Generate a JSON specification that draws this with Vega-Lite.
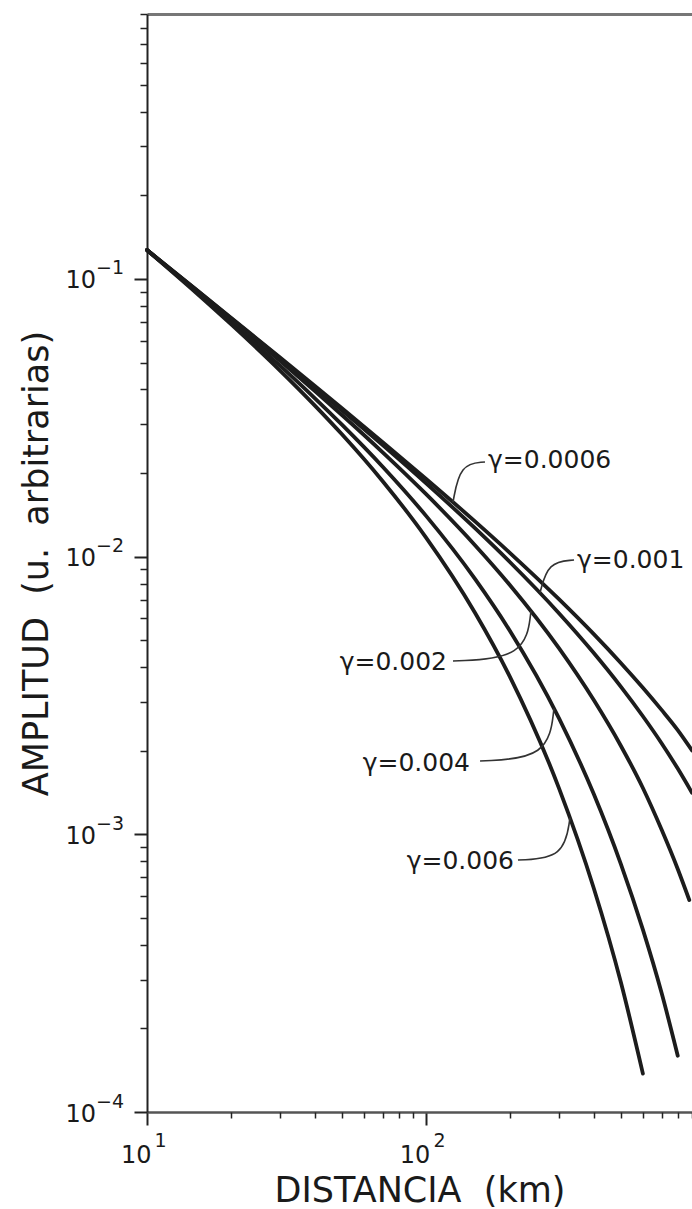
{
  "$schema": "https://vega.github.io/schema/vega-lite/v6.json",
  "width": 545,
  "height": 1098,
  "autosize": {"type": "none"},
  "padding": {"left": 147, "top": 14, "right": 0, "bottom": 97},
  "background": "white",
  "config": {
    "view": {"stroke": null},
    "font": "DejaVu Sans",
    "axis": {"grid": false, "labelFont": "DejaVu Sans", "titleFont": "DejaVu Sans", "labelColor": "#1a1a1a", "titleColor": "#1a1a1a", "titleFontWeight": "normal", "labelFlush": false, "labelOverlap": false, "labelBound": false, "tickColor": "#222", "domainColor": "#222"}
  },
  "datasets": {
    "curves": [
      {"g": "0.0006", "r": 10, "a": 0.1271}, {"g": "0.0006", "r": 15, "a": 0.09158}, {"g": "0.0006", "r": 20, "a": 0.07255}, {"g": "0.0006", "r": 30, "a": 0.05214}, {"g": "0.0006", "r": 40, "a": 0.04117}, {"g": "0.0006", "r": 50, "a": 0.03423}, {"g": "0.0006", "r": 70, "a": 0.02584}, {"g": "0.0006", "r": 100, "a": 0.01908}, {"g": "0.0006", "r": 150, "a": 0.01339}, {"g": "0.0006", "r": 200, "a": 0.01032}, {"g": "0.0006", "r": 300, "a": 0.007025}, {"g": "0.0006", "r": 400, "a": 0.005257}, {"g": "0.0006", "r": 500, "a": 0.004141}, {"g": "0.0006", "r": 600, "a": 0.003371}, {"g": "0.0006", "r": 700, "a": 0.002806}, {"g": "0.0006", "r": 800, "a": 0.002374}, {"g": "0.0006", "r": 900, "a": 0.002005},
      {"g": "0.001", "r": 10, "a": 0.1271}, {"g": "0.001", "r": 15, "a": 0.09139}, {"g": "0.001", "r": 20, "a": 0.07226}, {"g": "0.001", "r": 30, "a": 0.05172}, {"g": "0.001", "r": 40, "a": 0.04068}, {"g": "0.001", "r": 50, "a": 0.03368}, {"g": "0.001", "r": 70, "a": 0.02522}, {"g": "0.001", "r": 100, "a": 0.0184}, {"g": "0.001", "r": 150, "a": 0.01266}, {"g": "0.001", "r": 200, "a": 0.009566}, {"g": "0.001", "r": 300, "a": 0.006257}, {"g": "0.001", "r": 400, "a": 0.004497}, {"g": "0.001", "r": 500, "a": 0.003404}, {"g": "0.001", "r": 600, "a": 0.002662}, {"g": "0.001", "r": 700, "a": 0.002129}, {"g": "0.001", "r": 800, "a": 0.001725}, {"g": "0.001", "r": 900, "a": 0.001412},
      {"g": "0.002", "r": 10, "a": 0.1271}, {"g": "0.002", "r": 15, "a": 0.09095}, {"g": "0.002", "r": 20, "a": 0.07153}, {"g": "0.002", "r": 30, "a": 0.05069}, {"g": "0.002", "r": 40, "a": 0.03946}, {"g": "0.002", "r": 50, "a": 0.03236}, {"g": "0.002", "r": 70, "a": 0.02375}, {"g": "0.002", "r": 100, "a": 0.01682}, {"g": "0.002", "r": 150, "a": 0.011}, {"g": "0.002", "r": 200, "a": 0.007909}, {"g": "0.002", "r": 300, "a": 0.004682}, {"g": "0.002", "r": 400, "a": 0.003044}, {"g": "0.002", "r": 500, "a": 0.002085}, {"g": "0.002", "r": 600, "a": 0.001468}, {"g": "0.002", "r": 700, "a": 0.00104}, {"g": "0.002", "r": 800, "a": 0.00075}, {"g": "0.002", "r": 880, "a": 0.00058},
      {"g": "0.004", "r": 10, "a": 0.1271}, {"g": "0.004", "r": 15, "a": 0.09004}, {"g": "0.004", "r": 20, "a": 0.07011}, {"g": "0.004", "r": 30, "a": 0.04871}, {"g": "0.004", "r": 40, "a": 0.03717}, {"g": "0.004", "r": 50, "a": 0.02987}, {"g": "0.004", "r": 70, "a": 0.02107}, {"g": "0.004", "r": 100, "a": 0.01405}, {"g": "0.004", "r": 150, "a": 0.008316}, {"g": "0.004", "r": 200, "a": 0.005409}, {"g": "0.004", "r": 300, "a": 0.002621}, {"g": "0.004", "r": 400, "a": 0.001396}, {"g": "0.004", "r": 500, "a": 0.0007826}, {"g": "0.004", "r": 600, "a": 0.0004535}, {"g": "0.004", "r": 700, "a": 0.0002687}, {"g": "0.004", "r": 800, "a": 0.0001595},
      {"g": "0.006", "r": 10, "a": 0.1271}, {"g": "0.006", "r": 15, "a": 0.08915}, {"g": "0.006", "r": 20, "a": 0.06872}, {"g": "0.006", "r": 30, "a": 0.0468}, {"g": "0.006", "r": 40, "a": 0.035}, {"g": "0.006", "r": 50, "a": 0.02758}, {"g": "0.006", "r": 70, "a": 0.01869}, {"g": "0.006", "r": 100, "a": 0.01174}, {"g": "0.006", "r": 150, "a": 0.006284}, {"g": "0.006", "r": 200, "a": 0.0037}, {"g": "0.006", "r": 300, "a": 0.001467}, {"g": "0.006", "r": 400, "a": 0.0006397}, {"g": "0.006", "r": 500, "a": 0.0002938}, {"g": "0.006", "r": 600, "a": 0.0001375}
    ],
    "leaders": [
      {"g": "0.0006", "o": 0, "r": 125.1, "a": 0.01572}, {"g": "0.0006", "o": 1, "r": 132.6, "a": 0.02157}, {"g": "0.0006", "o": 2, "r": 162.9, "a": 0.02193},
      {"g": "0.001", "o": 0, "r": 256.6, "a": 0.007406}, {"g": "0.001", "o": 1, "r": 274.1, "a": 0.009566}, {"g": "0.001", "o": 2, "r": 339.8, "a": 0.009725},
      {"g": "0.002", "o": 0, "r": 125.1, "a": 0.004209}, {"g": "0.002", "o": 1, "r": 226.7, "a": 0.004315}, {"g": "0.002", "o": 2, "r": 238.2, "a": 0.006372},
      {"g": "0.004", "o": 0, "r": 156.4, "a": 0.001837}, {"g": "0.004", "o": 1, "r": 274.1, "a": 0.001883}, {"g": "0.004", "o": 2, "r": 288.0, "a": 0.002842},
      {"g": "0.006", "o": 0, "r": 213.9, "a": 0.000808}, {"g": "0.006", "o": 1, "r": 312.9, "a": 0.000822}, {"g": "0.006", "o": 2, "r": 328.7, "a": 0.001148}
    ],
    "labels": [
      {"t": "γ=0.0006", "r": 167, "a": 0.02229, "side": "left"},
      {"t": "γ=0.001", "r": 348.3, "a": 0.009725, "side": "left"},
      {"t": "γ=0.002", "r": 119, "a": 0.004174, "side": "right"},
      {"t": "γ=0.004", "r": 143.9, "a": 0.001806, "side": "right"},
      {"t": "γ=0.006", "r": 207, "a": 0.0008017, "side": "right"}
    ]
  },
  "layer": [
    {
      "data": {"name": "curves"},
      "mark": {"type": "line", "interpolate": "monotone", "color": "#1c1c1c", "strokeWidth": 3.8, "strokeCap": "round"},
      "encoding": {
        "x": {"field": "r", "type": "quantitative", "scale": {"type": "log", "domain": [10, 900], "nice": false, "zero": false},
          "axis": {"orient": "bottom", "values": [10, 100], "tickSize": 13, "tickWidth": 2, "domainWidth": 2.5, "domainColor": "#555", "labelExpr": "'' + round(log(datum.value)/LN10)", "labelAlign": "left", "labelBaseline": "alphabetic", "labelOffset": 7, "labelPadding": 21, "labelFontSize": 19, "title": null}},
        "y": {"field": "a", "type": "quantitative", "scale": {"type": "log", "domain": [0.0001, 0.9], "nice": false, "zero": false},
          "axis": {"orient": "left", "values": [0.0001, 0.001, 0.01, 0.1], "tickSize": 13, "tickWidth": 2, "domainWidth": 2, "labelExpr": "'−' + abs(round(log(datum.value)/LN10))", "labelAlign": "left", "labelBaseline": "alphabetic", "labelOffset": -5, "labelPadding": 38.5, "labelFontSize": 19, "title": null}},
        "detail": {"field": "g"}
      }
    },
    {
      "data": {"name": "leaders"},
      "mark": {"type": "line", "interpolate": "basis", "color": "#333", "strokeWidth": 1.6},
      "encoding": {
        "x": {"field": "r", "type": "quantitative", "scale": {"type": "log", "domain": [10, 900], "nice": false, "zero": false},
          "axis": {"orient": "bottom", "values": [20, 30, 40, 50, 60, 70, 80, 90, 200, 300, 400, 500, 600, 700, 800, 900], "tickSize": 6, "tickWidth": 1.5, "labels": false, "domain": false, "title": null}},
        "y": {"field": "a", "type": "quantitative", "scale": {"type": "log", "domain": [0.0001, 0.9], "nice": false, "zero": false},
          "axis": {"orient": "left", "values": [0.0002, 0.0003, 0.0004, 0.0005, 0.0006, 0.0007, 0.0008, 0.0009, 0.002, 0.003, 0.004, 0.005, 0.006, 0.007, 0.008, 0.009, 0.02, 0.03, 0.04, 0.05, 0.06, 0.07, 0.08, 0.09, 0.2, 0.3, 0.4, 0.5, 0.6, 0.7, 0.8, 0.9], "tickSize": 7, "tickWidth": 1.5, "labels": false, "domain": false, "title": null}},
        "detail": {"field": "g"},
        "order": {"field": "o"}
      }
    },
    {
      "data": {"name": "labels"},
      "transform": [{"filter": "datum.side == 'left'"}],
      "mark": {"type": "text", "align": "left", "baseline": "middle", "fontSize": 25, "font": "DejaVu Sans", "color": "#1a1a1a"},
      "encoding": {
        "x": {"field": "r", "type": "quantitative", "scale": {"type": "log", "domain": [10, 900], "nice": false, "zero": false},
          "axis": {"orient": "bottom", "values": [10, 100], "ticks": false, "tickSize": 0, "domain": false, "labelExpr": "'10'", "labelAlign": "right", "labelBaseline": "alphabetic", "labelOffset": 4, "labelPadding": 50, "labelFontSize": 24, "title": "DISTANCIA\u00a0 (km)", "titleFontSize": 35, "titleBaseline": "alphabetic", "titleY": 89}},
        "y": {"field": "a", "type": "quantitative", "scale": {"type": "log", "domain": [0.0001, 0.9], "nice": false, "zero": false},
          "axis": {"orient": "left", "values": [0.0001, 0.001, 0.01, 0.1], "ticks": false, "tickSize": 0, "domain": false, "labelExpr": "'10'", "labelAlign": "left", "labelBaseline": "alphabetic", "labelOffset": 9, "labelPadding": 82, "labelFontSize": 24, "title": "AMPLITUD\u00a0 (u.\u00a0 arbitrarias)", "titleFontSize": 35, "titleBaseline": "alphabetic", "titleX": -100}},
        "text": {"field": "t"}
      }
    },
    {
      "data": {"name": "labels"},
      "transform": [{"filter": "datum.side == 'right'"}],
      "mark": {"type": "text", "align": "right", "baseline": "middle", "fontSize": 25, "font": "DejaVu Sans", "color": "#1a1a1a"},
      "encoding": {
        "x": {"field": "r", "type": "quantitative", "scale": {"type": "log", "domain": [10, 900], "nice": false, "zero": false},
          "axis": {"orient": "top", "ticks": false, "labels": false, "domain": true, "domainColor": "#777", "domainWidth": 3, "title": null}},
        "y": {"field": "a", "type": "quantitative", "scale": {"type": "log", "domain": [0.0001, 0.9], "nice": false, "zero": false}, "axis": null},
        "text": {"field": "t"}
      }
    }
  ],
  "resolve": {"axis": {"x": "independent", "y": "independent"}}
}
